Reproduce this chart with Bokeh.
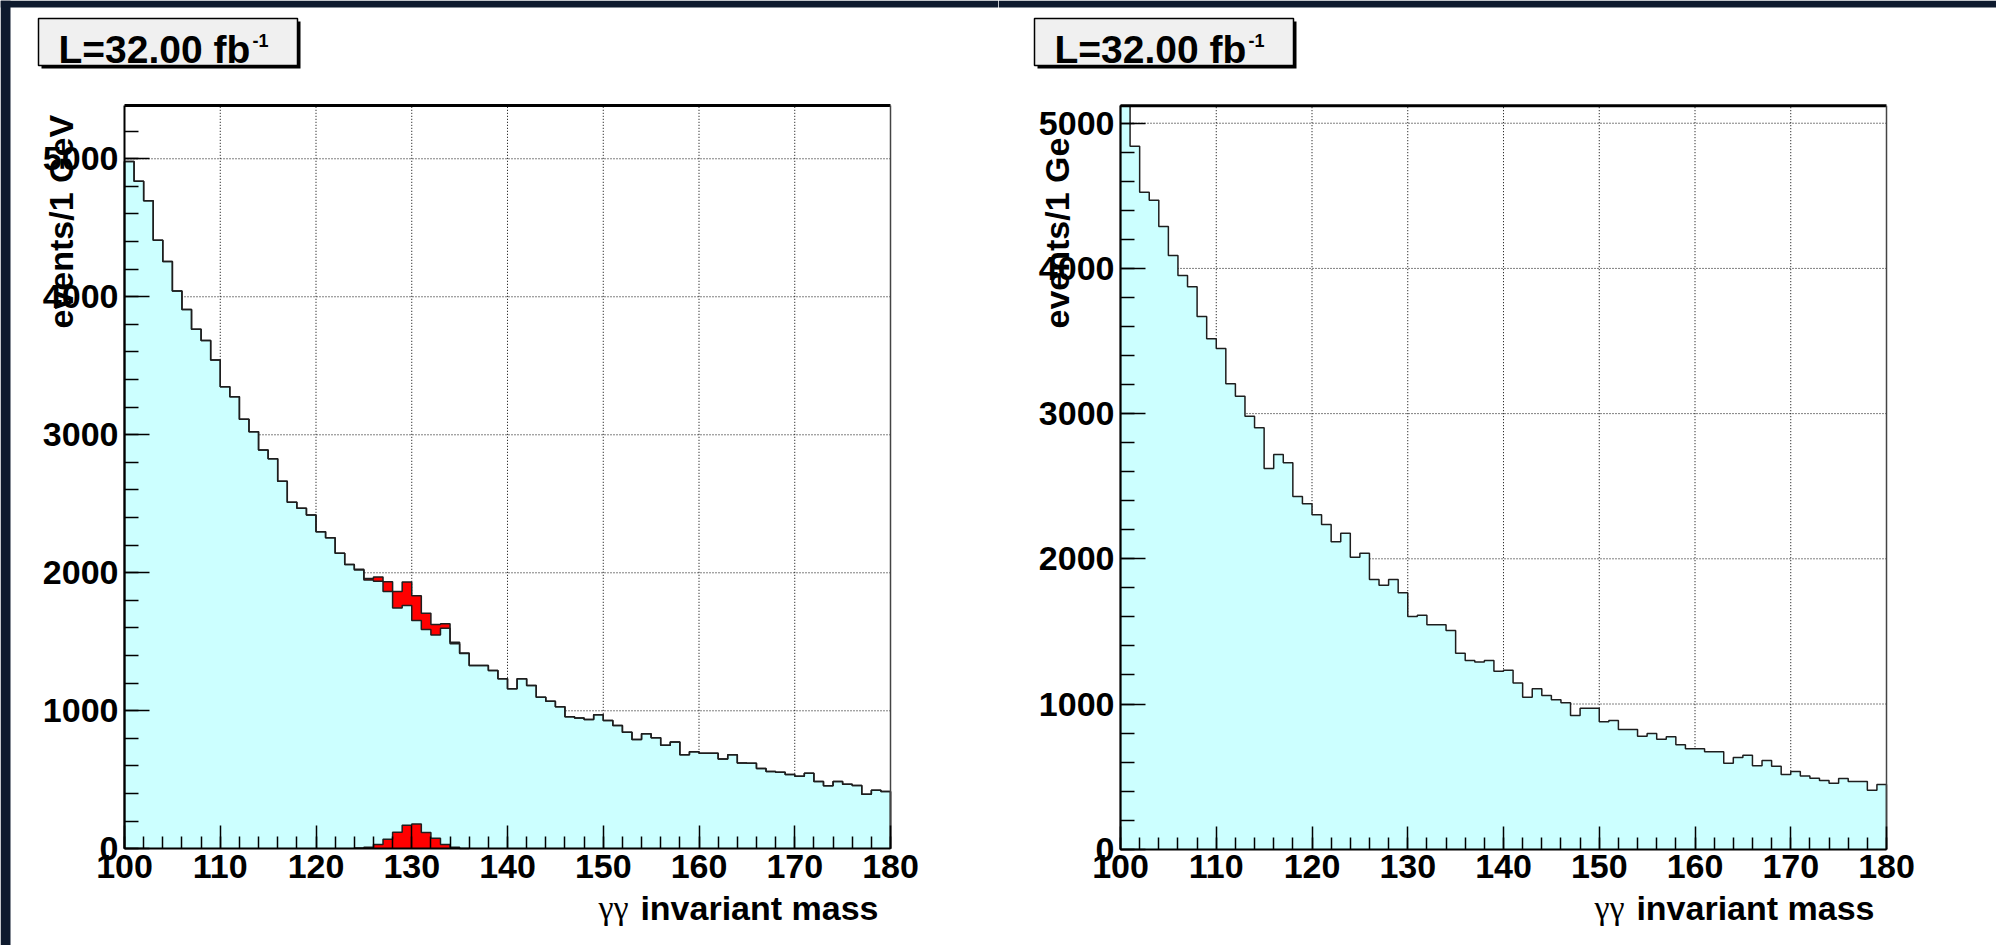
import numpy as np
from bokeh.plotting import figure
from bokeh.models import FixedTicker, Label, Range1d
from bokeh.layouts import row
from bokeh.embed import file_html
from bokeh.resources import INLINE

# ---------------- data ----------------
bin_low = list(range(100, 180))          # 1 GeV bins, lower edges
x_ticks = [100, 110, 120, 130, 140, 150, 160, 170, 180]
y_ticks = [0, 1000, 2000, 3000, 4000, 5000]
lumi_text = "L=32.00 fb"
lumi_sup = "-1"
x_title_greek = "\u03b3\u03b3"
x_title = "invariant mass"

# left panel: background (cyan) with Higgs signal (red)
bkg_left = [4980, 4838, 4695, 4410, 4256, 4041, 3908, 3765, 3683, 3541,
            3348, 3275, 3113, 3022, 2889, 2826, 2664, 2512, 2468, 2418,
            2297, 2253, 2142, 2060, 2021, 1947, 1939, 1865, 1744, 1763,
            1654, 1589, 1550, 1599, 1485, 1415, 1328, 1328, 1292, 1232,
            1159, 1232, 1183, 1099, 1070, 1029, 956, 947, 937, 971,
            930, 893, 845, 792, 833, 804, 751, 773, 681, 703,
            693, 692, 650, 681, 621, 619, 582, 560, 555, 538,
            526, 548, 488, 456, 488, 468, 459, 396, 425, 415]
sig_bins = [124, 125, 126, 127, 128, 129, 130, 131, 132, 133, 134, 135]
sig_vals = [5, 12, 31, 70, 120, 171, 180, 118, 76, 31, 12, 3]

# right panel: background only
bkg_right = [5120, 4842, 4525, 4470, 4289, 4089, 3951, 3873, 3669, 3515,
             3448, 3205, 3120, 2982, 2902, 2622, 2718, 2661, 2429, 2379,
             2303, 2236, 2117, 2176, 2011, 2039, 1857, 1818, 1857, 1766,
             1603, 1612, 1545, 1545, 1506, 1350, 1300, 1290, 1300, 1226,
             1233, 1145, 1047, 1105, 1058, 1029, 1008, 921, 971, 971,
             877, 886, 824, 824, 778, 797, 758, 774, 719, 691,
             691, 671, 671, 592, 632, 647, 574, 611, 572, 514,
             535, 505, 489, 473, 455, 487, 466, 466, 406, 445]

FONT = "Liberation Sans"
CYAN = "#ccffff"
LINE = "#1e1e1e"
EDGE = "#0e1a2e"
CANVAS_W, CANVAS_H = 998, 945
PAGE_TOP = 0


def step_xy(lows, vals):
    xs, ys = [lows[0]], [0]
    for lo, v in zip(lows, vals):
        xs += [lo, lo + 1]
        ys += [v, v]
    xs.append(lows[-1] + 1)
    ys.append(0)
    return xs, ys


def make_panel(bkg, y_end, ylabel, canvas_left, fl, fr, ft, fb, sig=None, left_edge=False):
    """fl/fr/ft/fb: page-pixel edges of the histogram frame."""
    x_lo, x_hi = x_ticks[0], x_ticks[-1]
    sx = (fr - fl) / (x_hi - x_lo)
    sy = (fb - ft) / y_end
    x0 = x_lo - (fl - canvas_left) / sx
    x1 = x_hi + (canvas_left + CANVAS_W - fr) / sx
    y0 = -(PAGE_TOP + CANVAS_H - fb) / sy
    y1 = y_end + (ft - PAGE_TOP) / sy

    def X(px):
        return x_lo + (px - fl) / sx

    def Y(py):
        return (fb - py) / sy

    p = figure(width=CANVAS_W, height=CANVAS_H, output_backend="svg",
               toolbar_location=None, min_border=0,
               x_range=Range1d(x0, x1), y_range=Range1d(y0, y1),
               background_fill_color="white", border_fill_color="white")
    p.outline_line_color = None
    p.grid.visible = False

    # dark slide background peeking in at the page edges
    p.quad(left=[x0], right=[x1], top=[y1], bottom=[Y(7)], fill_color=EDGE, line_color=None)
    if left_edge:
        p.quad(left=[x0], right=[X(canvas_left + 10)], top=[y1], bottom=[y0],
               fill_color=EDGE, line_color=None)

    # dotted grid (under the histograms)
    gx = x_ticks[1:-1]
    p.segment(x0=gx, y0=[0] * len(gx), x1=gx, y1=[y_end] * len(gx),
              line_color="black", line_dash="1 2", line_width=1)
    gy = y_ticks[1:]
    p.segment(x0=[x_lo] * len(gy), y0=gy, x1=[x_hi] * len(gy), y1=gy,
              line_color="black", line_dash="1 2", line_width=1)

    b = np.array(bkg, dtype=float)
    xs, ys = step_xy(bin_low, b)
    p.patch(xs, ys, fill_color=CYAN, line_color=None)

    if sig is not None:
        sl, sv = list(sig[0]), np.array(sig[1], dtype=float)
        bsub = np.array([bkg[k - bin_low[0]] for k in sl], dtype=float)
        ux, uy, lx, ly = [], [], [], []
        for lo, bb, ss in zip(sl, bsub, sv):
            ux += [lo, lo + 1]
            uy += [bb + ss, bb + ss]
            lx += [lo, lo + 1]
            ly += [bb, bb]
        p.patch(ux + lx[::-1], uy + ly[::-1], fill_color="red", line_color=None)
        p.line(xs, ys, line_color=LINE, line_width=1.5)
        s_full = np.zeros(len(bin_low))
        for k, v in zip(sl, sv):
            s_full[k - bin_low[0]] = v
        txs, tys = step_xy(bin_low, b + s_full)
        p.line(txs, tys, line_color=LINE, line_width=1.5)
        sxs, sys_ = step_xy(sl, sv)
        p.patch(sxs, sys_, fill_color="red", line_color=None)
        p.line(sxs, sys_, line_color=LINE, line_width=1.5)
    else:
        p.line(xs, ys, line_color=LINE, line_width=1.5)

    # frame: thick top edge, thin right edge
    p.segment(x0=[x_lo], y0=[y_end], x1=[x_hi], y1=[y_end], line_color="black", line_width=3)
    p.segment(x0=[x_hi], y0=[0], x1=[x_hi], y1=[y_end], line_color="#444444", line_width=1.5)

    # axes at the frame edges, ROOT-style inward ticks
    p.xaxis.fixed_location = 0
    p.yaxis.fixed_location = x_lo
    p.xaxis.bounds = (x_lo, x_hi)
    p.yaxis.bounds = (0, y_end)
    p.xaxis.ticker = FixedTicker(ticks=x_ticks, minor_ticks=list(range(100, 181, 2)))
    p.yaxis.ticker = FixedTicker(ticks=y_ticks, minor_ticks=list(range(0, int(y_end) + 1, 200)))
    for ax in (p.xaxis[0], p.yaxis[0]):
        ax.axis_line_color = "black"
        ax.axis_line_width = 2
        ax.major_tick_line_color = "black"
        ax.minor_tick_line_color = "black"
        ax.major_tick_line_width = 1.5
        ax.minor_tick_line_width = 1.5
        ax.major_tick_out = 0
        ax.minor_tick_out = 0
        ax.major_label_text_font = FONT
        ax.major_label_text_font_style = "bold"
        ax.major_label_text_font_size = "34px"
        ax.major_label_text_color = "black"
    p.xaxis.major_tick_in = 23
    p.xaxis.minor_tick_in = 12
    p.yaxis.major_tick_in = 25
    p.yaxis.minor_tick_in = 14
    p.xaxis.major_label_standoff = 6
    p.yaxis.major_label_standoff = 6

    # luminosity box with shadow
    p.quad(left=[X(fl - 83)], right=[X(fl + 176)], top=[Y(21)], bottom=[Y(68)],
           fill_color="black", line_color=None)
    p.quad(left=[X(fl - 86)], right=[X(fl + 173)], top=[Y(18)], bottom=[Y(65)],
           fill_color="#f0f0f0", line_color="black", line_width=1.5)
    p.add_layout(Label(x=X(fl - 66), y=Y(49), text=lumi_text, text_font=FONT,
                       text_font_style="bold", text_font_size="39px",
                       text_color="black", text_align="left",
                       text_baseline="alphabetic"))
    p.add_layout(Label(x=X(fl + 128), y=Y(40), text=lumi_sup, text_font=FONT,
                       text_font_style="bold", text_font_size="18px",
                       text_color="black", text_align="left",
                       text_baseline="alphabetic"))

    # y title (ROOT style, overlapping the tick labels)
    p.add_layout(Label(x=X(fl - 64), y=Y(328), text=ylabel, angle=np.pi / 2,
                       text_font=FONT, text_font_style="bold", text_font_size="34px",
                       text_color="black", text_align="left",
                       text_baseline="alphabetic"))

    # x title
    p.add_layout(Label(x=X(fl + 754), y=Y(907), text=x_title, text_font=FONT,
                       text_font_style="bold", text_font_size="34px",
                       text_color="black", text_align="right",
                       text_baseline="alphabetic"))
    p.add_layout(Label(x=X(fl + 504), y=Y(907), text=x_title_greek,
                       text_font="Liberation Serif", text_font_size="34px",
                       text_color="black", text_align="right",
                       text_baseline="alphabetic"))
    return p


p1 = make_panel(bkg_left, 5386, "events/1 GeV", 0, 124, 890, 105.0, 848.3,
                sig=(sig_bins, sig_vals), left_edge=True)
p2 = make_panel(bkg_right, 5120, "events/1 Ge", 998, 1120, 1886, 105.3, 848.7)

p = row(p1, p2)
open("out.html", "w").write(file_html(p, INLINE))
